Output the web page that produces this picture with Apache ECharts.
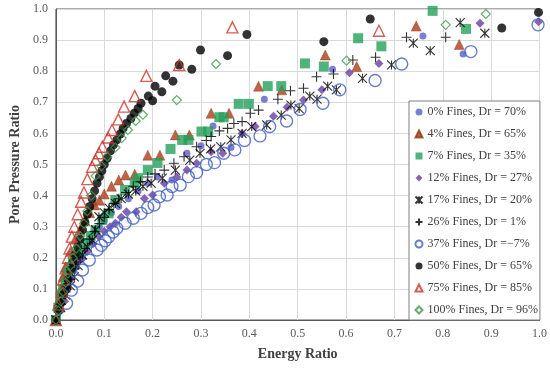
<!DOCTYPE html>
<html><head><meta charset="utf-8">
<script src="https://cdn.jsdelivr.net/npm/echarts@6/dist/echarts.min.js"></script>
<style>html,body{margin:0;padding:0;background:#fff}#c{width:550px;height:368px}</style>
</head><body><div id="c"></div>
<script>
const seriesNames = ['0% Fines, Dr = 70%','4% Fines, Dr = 65%','7% Fines, Dr = 35%','12% Fines, Dr = 27%','17% Fines, Dr = 20%','26% Fines, Dr = 1%','37% Fines, Dr =\u22127%','50% Fines, Dr = 65%','75% Fines, Dr = 85%','100% Fines, Dr = 96%'];
const xTicks = [0,0.1,0.2,0.3,0.4,0.5,0.6,0.7,0.8,0.9,1.0];
const yTicks = [0,0.1,0.2,0.3,0.4,0.5,0.6,0.7,0.8,0.9,1.0];

const fines0 = [[0,0],[0.01,0.05],[0.02,0.1],[0.03,0.14],[0.04,0.17],[0.05,0.2],[0.06,0.23],[0.07,0.255],[0.08,0.28],[0.09,0.3],[0.1,0.32],[0.115,0.345],[0.13,0.365],[0.15,0.39],[0.17,0.415],[0.19,0.44],[0.21,0.46],[0.24,0.45],[0.271,0.536],[0.3,0.56],[0.325,0.624],[0.362,0.555],[0.431,0.71],[0.572,0.806],[0.759,0.913],[0.842,0.855]];
const fines4 = [[0,0],[0.005,0.06],[0.01,0.1],[0.015,0.14],[0.02,0.17],[0.03,0.22],[0.04,0.26],[0.05,0.29],[0.06,0.32],[0.07,0.345],[0.08,0.37],[0.09,0.385],[0.1,0.405],[0.115,0.43],[0.13,0.45],[0.144,0.466],[0.163,0.469],[0.19,0.53],[0.215,0.53],[0.247,0.595],[0.276,0.595],[0.321,0.665],[0.358,0.665],[0.419,0.752],[0.467,0.74],[0.557,0.852],[0.622,0.815],[0.745,0.945],[0.834,0.886]];
const fines7 = [[0,0],[0.005,0.04],[0.01,0.075],[0.015,0.1],[0.02,0.125],[0.025,0.15],[0.03,0.17],[0.035,0.185],[0.04,0.2],[0.046,0.21],[0.052,0.22],[0.062,0.247],[0.072,0.27],[0.082,0.289],[0.096,0.322],[0.109,0.343],[0.123,0.386],[0.143,0.418],[0.163,0.44],[0.17,0.456],[0.19,0.482],[0.21,0.505],[0.237,0.55],[0.261,0.579],[0.274,0.579],[0.301,0.606],[0.315,0.606],[0.338,0.652],[0.347,0.652],[0.378,0.695],[0.399,0.695],[0.438,0.752],[0.466,0.752],[0.515,0.825],[0.554,0.815],[0.625,0.906],[0.673,0.88],[0.779,0.994],[0.848,0.936]];
const fines12 = [[0,0],[0.01,0.03],[0.018,0.06],[0.025,0.1],[0.03,0.13],[0.038,0.177],[0.046,0.19],[0.055,0.198],[0.065,0.22],[0.077,0.245],[0.089,0.268],[0.1,0.285],[0.112,0.3],[0.123,0.311],[0.135,0.33],[0.146,0.348],[0.166,0.348],[0.183,0.391],[0.2,0.402],[0.224,0.44],[0.25,0.46],[0.271,0.482],[0.291,0.504],[0.321,0.541],[0.345,0.536],[0.385,0.6],[0.412,0.622],[0.45,0.655],[0.478,0.684],[0.512,0.707],[0.55,0.74],[0.607,0.795],[0.668,0.825],[0.877,0.954],[0.998,0.959]];
const fines17 = [[0,0],[0.01,0.04],[0.02,0.08],[0.03,0.11],[0.038,0.139],[0.046,0.175],[0.055,0.209],[0.065,0.235],[0.075,0.257],[0.082,0.29],[0.089,0.332],[0.1,0.345],[0.11,0.36],[0.123,0.375],[0.135,0.39],[0.15,0.405],[0.165,0.415],[0.18,0.43],[0.197,0.44],[0.22,0.456],[0.247,0.482],[0.277,0.514],[0.298,0.536],[0.32,0.55],[0.341,0.557],[0.362,0.579],[0.385,0.6],[0.405,0.622],[0.436,0.627],[0.466,0.659],[0.486,0.691],[0.503,0.68],[0.525,0.72],[0.54,0.71],[0.562,0.752],[0.58,0.74],[0.634,0.777],[0.694,0.82],[0.739,0.89],[0.774,0.866],[0.836,0.956],[0.887,0.922]];
const fines26 = [[0,0],[0.01,0.05],[0.02,0.09],[0.03,0.13],[0.04,0.165],[0.05,0.2],[0.06,0.23],[0.07,0.26],[0.08,0.285],[0.09,0.31],[0.1,0.33],[0.11,0.355],[0.12,0.375],[0.13,0.39],[0.145,0.41],[0.16,0.43],[0.175,0.445],[0.19,0.46],[0.205,0.47],[0.224,0.482],[0.244,0.504],[0.265,0.525],[0.291,0.557],[0.311,0.577],[0.321,0.59],[0.338,0.608],[0.355,0.616],[0.368,0.632],[0.385,0.638],[0.402,0.665],[0.419,0.675],[0.459,0.71],[0.485,0.737],[0.512,0.745],[0.539,0.782],[0.574,0.791],[0.614,0.836],[0.661,0.845],[0.725,0.909],[0.806,0.909]];
const fines37 = [[0.022,0.054],[0.032,0.096],[0.045,0.125],[0.055,0.161],[0.069,0.193],[0.085,0.225],[0.094,0.24],[0.102,0.255],[0.109,0.268],[0.118,0.283],[0.126,0.295],[0.143,0.311],[0.16,0.327],[0.176,0.343],[0.19,0.362],[0.203,0.37],[0.214,0.396],[0.23,0.402],[0.24,0.429],[0.257,0.434],[0.274,0.461],[0.291,0.474],[0.311,0.5],[0.328,0.506],[0.347,0.536],[0.37,0.547],[0.39,0.577],[0.422,0.592],[0.442,0.622],[0.477,0.64],[0.505,0.677],[0.552,0.697],[0.587,0.74],[0.66,0.77],[0.715,0.823],[0.858,0.863],[0.997,0.949]];
const fines50 = [[0,0],[0.005,0.03],[0.01,0.055],[0.015,0.08],[0.02,0.105],[0.025,0.13],[0.03,0.16],[0.035,0.185],[0.04,0.21],[0.045,0.235],[0.05,0.26],[0.055,0.29],[0.06,0.315],[0.065,0.34],[0.07,0.365],[0.075,0.39],[0.08,0.415],[0.085,0.44],[0.09,0.46],[0.095,0.48],[0.1,0.5],[0.106,0.52],[0.113,0.544],[0.119,0.563],[0.126,0.579],[0.133,0.598],[0.139,0.616],[0.146,0.632],[0.155,0.648],[0.162,0.665],[0.17,0.68],[0.176,0.697],[0.191,0.72],[0.2,0.705],[0.205,0.752],[0.219,0.734],[0.227,0.785],[0.242,0.768],[0.255,0.82],[0.281,0.806],[0.299,0.868],[0.355,0.85],[0.395,0.918],[0.554,0.895],[0.65,0.968],[0.922,0.939],[0.998,0.989]];
const fines75 = [[0,0],[0.005,0.05],[0.012,0.091],[0.015,0.13],[0.02,0.166],[0.025,0.2],[0.028,0.23],[0.033,0.268],[0.038,0.3],[0.045,0.34],[0.052,0.38],[0.058,0.41],[0.065,0.453],[0.075,0.493],[0.082,0.515],[0.089,0.536],[0.096,0.557],[0.108,0.587],[0.116,0.611],[0.129,0.645],[0.141,0.686],[0.163,0.72],[0.187,0.785],[0.255,0.82],[0.365,0.941],[0.668,0.93]];
const fines100 = [[0,0],[0.005,0.03],[0.01,0.06],[0.015,0.09],[0.02,0.12],[0.025,0.15],[0.03,0.175],[0.035,0.2],[0.042,0.23],[0.05,0.27],[0.058,0.31],[0.065,0.35],[0.073,0.4],[0.082,0.463],[0.094,0.495],[0.106,0.525],[0.123,0.555],[0.136,0.585],[0.149,0.611],[0.165,0.64],[0.18,0.66],[0.25,0.707],[0.331,0.823],[0.601,0.834],[0.806,0.949],[0.889,0.984]];

const dataSets = [fines0,fines4,fines7,fines12,fines17,fines26,fines37,fines50,fines75,fines100];
const STAR = 'path://M0,0L10,10M10,0L0,10M5,0L5,10';
const PLUS = 'path://M5,0L5,10M0,5L10,5';
const styles = [
  {symbol:'circle', size:7, item:{color:'#5a5ec8'}},
  {symbol:'triangle', size:10, item:{color:'#b03a1a', borderColor:'#8a3a10', borderWidth:0.5}},
  {symbol:'rect', size:10, item:{color:'#23a05a'}},
  {symbol:'diamond', size:9, item:{color:'#6a3fa0'}},
  {symbol:STAR, size:9, item:{color:'none', borderColor:'#000', borderWidth:1.1}},
  {symbol:PLUS, size:10, item:{color:'none', borderColor:'#000', borderWidth:1.1}},
  {symbol:'circle', size:12, item:{color:'rgba(0,0,0,0)', borderColor:'#3f5fbf', borderWidth:1.4}},
  {symbol:'circle', size:9, item:{color:'#000'}},
  {symbol:'triangle', size:11, item:{color:'rgba(0,0,0,0)', borderColor:'#c8372d', borderWidth:1.4}},
  {symbol:'diamond', size:9, item:{color:'rgba(0,0,0,0)', borderColor:'#3d9a4f', borderWidth:1.2}}
];
const chart = echarts.init(document.getElementById('c'), null, {renderer:'canvas'});
const fmt = v => v.toFixed(1);
chart.setOption({
  animation:false,
  backgroundColor:'#fff',
  grid:{left:46,right:9,top:9,bottom:48,show:true,borderColor:'#595959',borderWidth:1,backgroundColor:'#fff'},
  xAxis:{type:'value',min:xTicks[0],max:xTicks[xTicks.length-1],interval:0.1,
    name:'Energy Ratio',nameLocation:'middle',nameGap:27,
    nameTextStyle:{fontFamily:'Liberation Serif',fontWeight:'bold',fontSize:14,color:'#404040'},
    axisLine:{lineStyle:{color:'#595959',width:1}},axisTick:{show:false},
    axisLabel:{formatter:fmt,margin:8,fontFamily:'Liberation Serif',fontSize:12,color:'#595959'},
    splitLine:{lineStyle:{color:'#d9d9d9',width:1}}},
  yAxis:{type:'value',min:yTicks[0],max:yTicks[yTicks.length-1],interval:0.1,
    name:'Pore Pressure Ratio',nameLocation:'middle',nameGap:25,
    nameTextStyle:{fontFamily:'Liberation Serif',fontWeight:'bold',fontSize:14,color:'#404040'},
    axisLine:{show:true,lineStyle:{color:'#595959',width:1}},axisTick:{show:false},
    axisLabel:{formatter:fmt,margin:8,fontFamily:'Liberation Serif',fontSize:12,color:'#595959'},
    splitLine:{lineStyle:{color:'#d9d9d9',width:1}}},
  legend:{orient:'vertical',left:409,top:101,padding:[4,2,3,4],itemGap:8,itemWidth:7,itemHeight:7,
    backgroundColor:'#fff',borderColor:'#7f7f7f',borderWidth:1,
    textStyle:{fontFamily:'Liberation Serif',fontSize:12,color:'#404040',lineHeight:14},
    data:seriesNames.map((n,i)=>({name:n,icon:styles[i].symbol}))},
  series:dataSets.map((d,i)=>({
    name:seriesNames[i],type:'scatter',data:d,symbol:styles[i].symbol,symbolSize:styles[i].size,
    itemStyle:styles[i].item,z:2+i
  }))
});
</script></body></html>
